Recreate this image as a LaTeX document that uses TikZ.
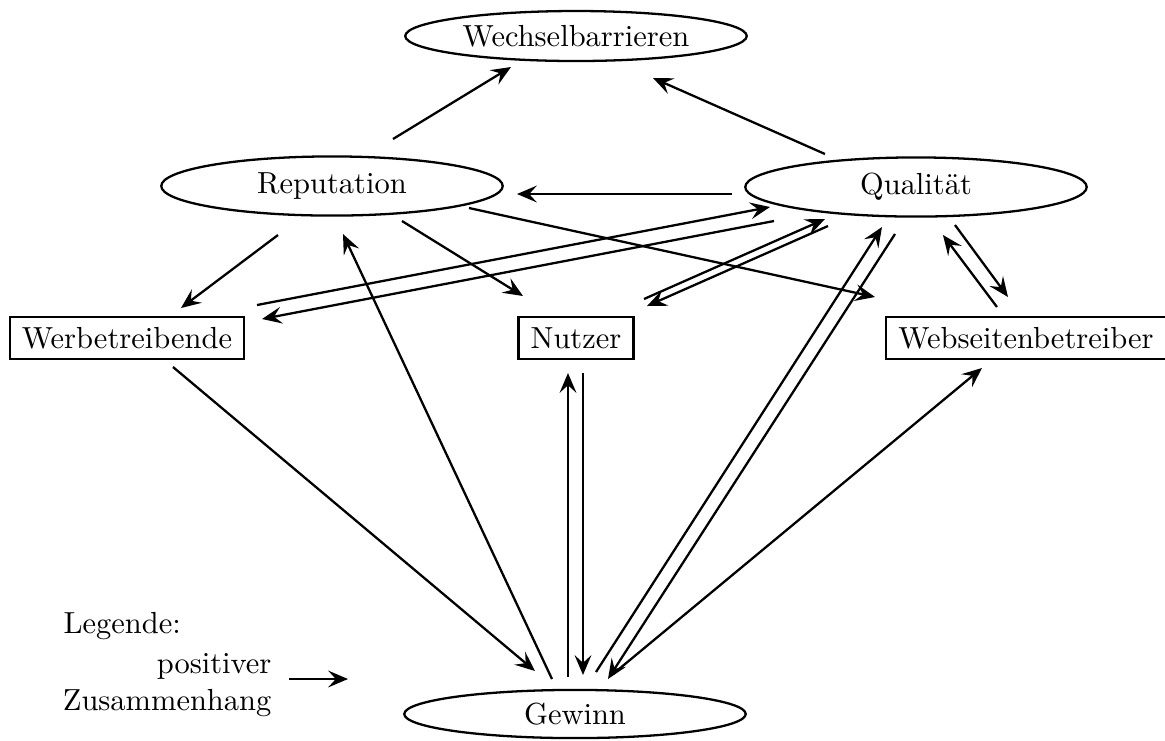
\documentclass[tikz,border=0pt]{standalone}
\usetikzlibrary{shapes.geometric,arrows.meta}
\begin{document}
\begin{tikzpicture}[x=0.328pt,y=-0.328pt,
  oval/.style={ellipse,draw,line width=0.75pt,minimum width=112pt,inner sep=0pt},
  box/.style={rectangle,draw,line width=0.75pt,inner xsep=4pt,inner ysep=0pt,minimum height=13.8pt},
  arr/.style={-{Stealth[length=6.5pt,width=5.5pt,inset=2.5pt]},line width=0.75pt}]
\useasboundingbox (0,0) rectangle (1165,740);
\node[oval,minimum height=16.4pt] (W) at (576,36) {Wechselbarrieren};
\node[oval,minimum height=19.4pt] (R) at (332,186) {Reputation};
\node[oval,minimum height=19.4pt] (Q) at (916,187) {Qualität};
\node[box] (Wb) at (127,338) {Werbetreibende};
\node[box] (N) at (576,338) {Nutzer};
\node[box] (Ws) at (1026,338) {Webseitenbetreiber};
\node[oval,minimum height=15.8pt] (G) at (575,714) {Gewinn};
\node[anchor=base west,inner sep=0pt] (L1) at (63,633) {Legende:};
\node[anchor=east,align=right,inner sep=0pt] (L2) at (272,685) {positiver\\Zusammenhang};
\draw[arr] ([shift={(17,-6)}]L2.east) -- ([shift={(76,-6)}]L2.east);
% connectors
\draw[arr] ([shift={(61,-47)}]R.center) -- ([shift={(-65,31)}]W.center);
\draw[arr] ([shift={(-91,-33)}]Q.center) -- ([shift={(77,42)}]W.center);
\draw[arr] ([shift={(-184,7)}]Q.center) -- ([shift={(185,8)}]R.center);
\draw[arr] ([shift={(-54,49)}]R.center) -- ([shift={(54,-30)}]Wb.center);
\draw[arr] ([shift={(70,35)}]R.center) -- ([shift={(-53,-42)}]N.center);
\draw[arr] ([shift={(137,22)}]R.center) -- ([shift={(-151,-41)}]Ws.center);
\draw[arr] ([shift={(130,-33)}]Wb.center) -- ([shift={(-146,20)}]Q.center);
\draw[arr] ([shift={(-142,34)}]Q.center) -- ([shift={(135,-19)}]Wb.center);
\draw[arr] ([shift={(68,-39)}]N.center) -- ([shift={(-91,32)}]Q.center);
\draw[arr] ([shift={(-88,39)}]Q.center) -- ([shift={(71,-32)}]N.center);
\draw[arr] ([shift={(39,38)}]Q.center) -- ([shift={(-18,-41)}]Ws.center);
\draw[arr] ([shift={(-29,-31)}]Ws.center) -- ([shift={(27,48)}]Q.center);
\draw[arr] ([shift={(46,29)}]Wb.center) -- ([shift={(-40,-43)}]G.center);
\draw[arr] ([shift={(-23,-35)}]G.center) -- ([shift={(11,48)}]R.center);
\draw[arr] ([shift={(-7,-37)}]G.center) -- ([shift={(-8,35)}]N.center);
\draw[arr] ([shift={(7,35)}]N.center) -- ([shift={(8,-39)}]G.center);
\draw[arr] ([shift={(21,-42)}]G.center) -- ([shift={(-34,40)}]Q.center);
\draw[arr] ([shift={(-21,47)}]Q.center) -- ([shift={(33,-35)}]G.center);
\draw[arr] ([shift={(38,-40)}]G.center) -- ([shift={(-44,30)}]Ws.center);
\end{tikzpicture}
\end{document}
